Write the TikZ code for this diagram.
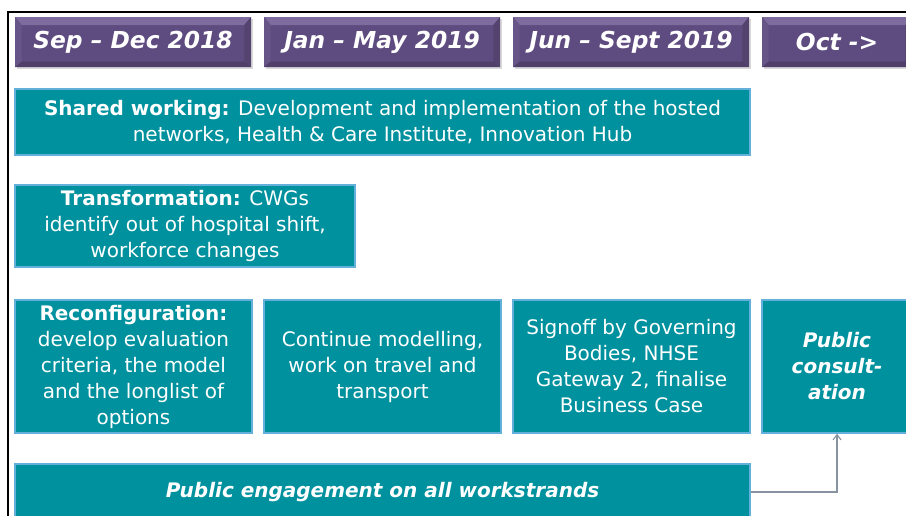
\documentclass[tikz,border=0pt]{standalone}
\usepackage{fontspec}
\setmainfont{DejaVu Sans}
\usepackage{xcolor}
\usepackage{tikz}
\usetikzlibrary{shadows, arrows.meta}

\definecolor{hdrface}{HTML}{5E4B7F}
\definecolor{hdrtop}{HTML}{7E6C9E}
\definecolor{hdrleft}{HTML}{685588}
\definecolor{hdrright}{HTML}{54426F}
\definecolor{hdrbottom}{HTML}{4F3F69}
\definecolor{tealface}{HTML}{00919E}
\definecolor{tealedge}{HTML}{63B1DA}
\definecolor{connGray}{HTML}{8793A0}

\begin{document}
\begin{tikzpicture}[x=0.75pt, y=-0.75pt,
    hdr/.style={fill=hdrface, text=white, inner sep=0pt, minimum width=177pt, minimum height=37.5pt,
        font=\fontsize{17.5}{20}\selectfont\bfseries\itshape,
        drop shadow={shadow xshift=1.2pt, shadow yshift=-1.2pt, opacity=0.3},
        path picture={
            \coordinate (nw) at (path picture bounding box.north west);
            \coordinate (se) at (path picture bounding box.south east);
            \fill[hdrtop] (nw) -- (nw -| se) -- ([shift={(-5pt,-6pt)}]nw -| se) -- ([shift={(5pt,-6pt)}]nw) -- cycle;
            \fill[hdrleft] (nw) -- ([shift={(5pt,-6pt)}]nw) -- ([shift={(5pt,4pt)}]nw |- se) -- (nw |- se) -- cycle;
            \fill[hdrright] (nw -| se) -- (se) -- ([shift={(-5pt,4pt)}]se) -- ([shift={(-5pt,-6pt)}]nw -| se) -- cycle;
            \fill[hdrbottom] (nw |- se) -- (se) -- ([shift={(-5pt,4pt)}]se) -- ([shift={(5pt,4pt)}]nw |- se) -- cycle;
        }},
    box/.style={fill=tealface, draw=tealedge, line width=1.1pt, text=white, inner sep=0pt, align=center,
        minimum width=177.75pt, minimum height=99.75pt,
        font=\fontsize{15}{19.5}\selectfont},
    conn/.style={draw=connGray, line width=0.8pt, -{Straight Barb[length=4pt, width=6pt]}}]

    \clip (0,0) rectangle (906,515);

    % frame
    \draw[line width=1.5pt] (8,520) -- (8,12) -- (910,12);

    % time periods
    \node[hdr] (p1) at (133,42) {Sep -- Dec 2018};
    \node[hdr] (p2) at (382,42) {Jan -- May 2019};
    \node[hdr] (p3) at (631,42) {Jun -- Sept 2019};
    \node[hdr, minimum width=112.5pt] (p4) at (837,42) {Oct ->};

    % workstrands
    \node[box, minimum width=551.25pt, minimum height=49.5pt] (shared) at (382.5,122)
        {\textbf{Shared working:} Development and implementation of the hosted\\networks, Health \& Care Institute, Innovation Hub};
    \node[box, minimum width=255pt, minimum height=61.5pt] (trans) at (185,226)
        {\textbf{Transformation:} CWGs\\identify out of hospital shift,\\workforce changes};

    \node[box] (reconf) at (133.5,366.5)
        {\textbf{Reconfiguration:}\\develop evaluation\\criteria, the model\\and the longlist of\\options};
    \node[box] (model) at (382.5,366.5)
        {Continue modelling,\\work on travel and\\transport};
    \node[box] (signoff) at (631.5,366.5)
        {Signoff by Governing\\Bodies, NHSE\\Gateway 2, finalise\\Business Case};
    \node[box, minimum width=112.5pt, font=\fontsize{15}{19.5}\selectfont\bfseries\itshape] (consult) at (837,366.5)
        {Public\\consult-\\ation};

    \node[box, minimum width=551.25pt, minimum height=42pt, font=\fontsize{15}{19.5}\selectfont\bfseries\itshape] (engage) at (382.5,492)
        {Public engagement on all workstrands};

    \draw[conn] (engage.east) -| (consult.south);
\end{tikzpicture}
\end{document}
